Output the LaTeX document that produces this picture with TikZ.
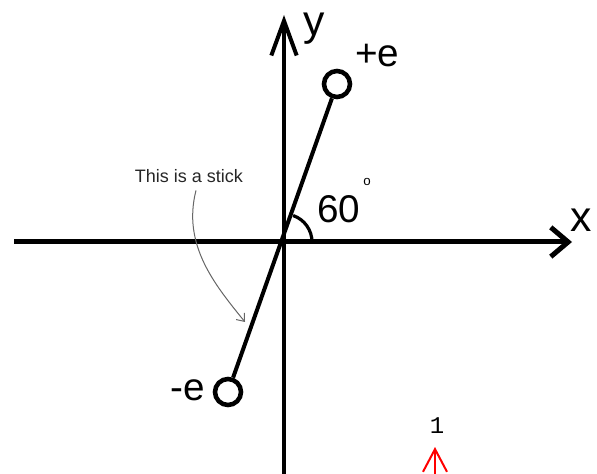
\documentclass[tikz,border=0pt]{standalone}
\usepackage{fontspec}
\setmainfont{Liberation Sans}
\newfontfamily\monofont{Liberation Mono}
\usetikzlibrary{arrows.meta}

\begin{document}
\begin{tikzpicture}[x=0.75pt, y=-0.75pt,
  charge/.style={draw, circle, line width=3.4pt, minimum size=19.5pt, inner sep=0pt},
  lbl/.style={inner sep=0pt, anchor=base west, font=\fontsize{29}{29}\selectfont},
  axlbl/.style={inner sep=0pt, anchor=base west, font=\fontsize{32}{32}\selectfont}]
  \useasboundingbox (0,0) rectangle (597,474);

  % Axes
  \coordinate (o) at (284,242);
  \coordinate (xl) at (14,242);
  \coordinate (xr) at (572,242);
  \coordinate (yb) at (284,476);
  \coordinate (yt) at (284,15);
  \draw[line width=3.75pt, -{Straight Barb[length=13pt,width=22pt]}] (xl) -- (xr);
  \draw[line width=3pt, -{Straight Barb[length=26pt,width=19pt]}] (yb) -- (yt);
  \node[axlbl] (xlab) at (570,232) {x};
  \node[axlbl] (ylab) at (303,36) {y};

  % Charges and stick
  \node[charge] (pos) at (337,84) {};
  \node[charge] (neg) at (228,392) {};
  \draw[line width=3pt] (neg) -- (pos);
  \node[lbl] (poslab) at (355,67) {+e};
  \node[lbl] (neglab) at (170,401) {-e};

  % Angle
  \draw[line width=2.4pt] (o) ++(28,0) arc[start angle=0, end angle=-71, radius=28];
  \node[lbl] (angle) at (317,223) {60};
  \node[inner sep=0pt, font=\fontsize{10}{10}\selectfont] (deg) at (367,182) {o};

  % Note
  \node[inner sep=0pt, anchor=base, text=black!85, font=\fontsize{13.5}{13.5}\selectfont] (note) at (189,183) {This is a stick};
  \coordinate (tip) at (245,322);
  \draw[black!60, line width=0.75pt, -{Straight Barb[length=5pt,width=8pt]}]
    ([shift={(7,7)}]note.south) .. controls (182,245) and (215,285) .. (tip);

  % Marker
  \node[inner sep=0pt, anchor=base, font=\monofont\fontsize{18}{18}\selectfont] (num) at (437,433) {1};
  \coordinate (mbot) at (435,476);
  \coordinate (mtop) at (435,447);
  \draw[red, line width=1.5pt, -{Straight Barb[length=17pt,width=18pt]}] (mbot) -- (mtop);
\end{tikzpicture}
\end{document}
